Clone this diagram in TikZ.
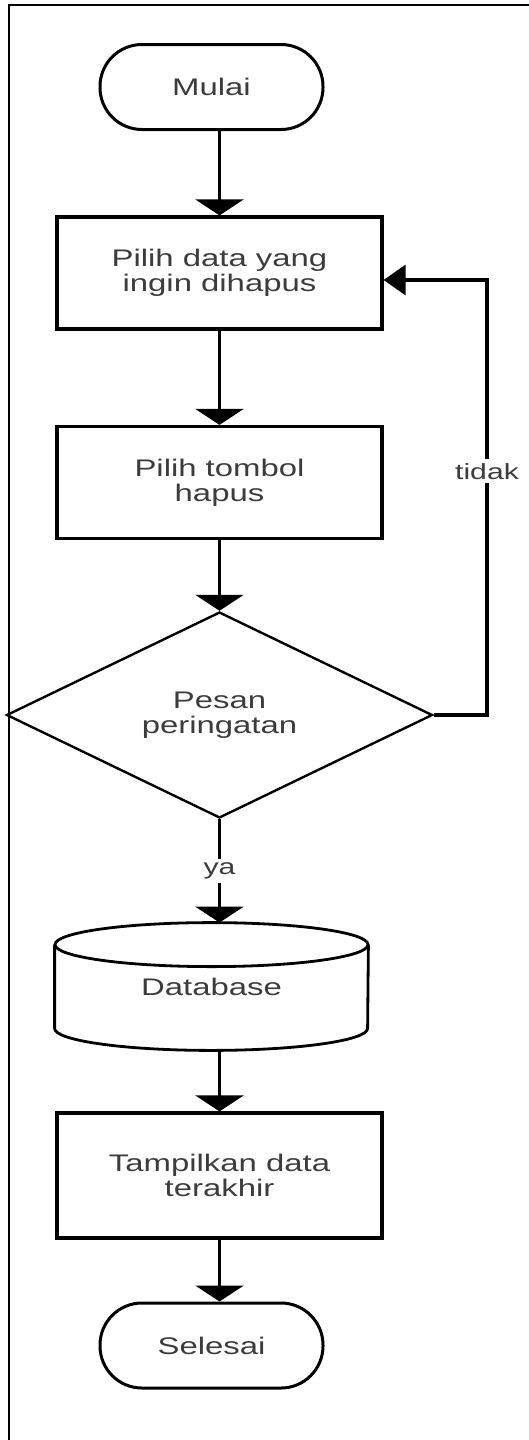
\documentclass[tikz,border=0pt]{standalone}
\usepackage{fontspec}
\setmainfont{Liberation Sans}[FakeStretch=1.37]
\usetikzlibrary{shapes.geometric,arrows.meta}
\definecolor{txtgray}{RGB}{60,60,60}
\begin{document}
\begin{tikzpicture}[x=0.5pt,y=-0.5pt,
    every node/.style={font=\fontsize{12}{12.5}\selectfont, text=txtgray, align=center},
    terminal/.style={draw, line width=1.5pt, rounded corners=21pt, minimum width=111.5pt, minimum height=42.5pt},
    process/.style={draw, line width=1.6pt, minimum width=162.5pt, minimum height=56pt},
    decision/.style={draw, diamond, line width=1.2pt, minimum width=213pt, minimum height=103pt, inner sep=0pt},
    store/.style={minimum width=156.5pt, minimum height=63.5pt},
    flow/.style={line width=1.6pt, -{Triangle[width=24pt,length=8pt]}},
    lbl/.style={fill=white, inner sep=2pt, font=\fontsize{11}{12}\selectfont}]
    \useasboundingbox (0,0) rectangle (529,1440);
    \draw [line width=1pt] (529,5) -- (9,5) -- (9,1440);
    \node [terminal] (mulai) at (211.5,87) {Mulai};
    \node [process] (pilih) at (219.5,273) {Pilih data yang\\ingin dihapus};
    \node [process] (tombol) at (219.5,482.5) {Pilih tombol\\hapus};
    \node [decision] (pesan) at (219.5,715) {Pesan\\peringatan};
    \node [store] (db) at (211.5,986.5) {Database};
    \draw [line width=1.4pt] ([yshift=-11pt]db.north) ellipse [x radius=78.25pt, y radius=11pt];
    \draw [line width=1.4pt] ([yshift=-11pt]db.north west) -- ([yshift=11pt]db.south west)
        arc [start angle=180, end angle=360, x radius=78.25pt, y radius=11pt] -- ([yshift=-11pt]db.north east);
    \node [process, minimum height=62.5pt] (tampil) at (219.5,1175.5) {Tampilkan data\\terakhir};
    \node [terminal] (selesai) at (211.5,1345.5) {Selesai};
    \coordinate (balik) at (487,715);
    \coordinate (masuk) at ([yshift=-3.5pt]pilih.east);
    \draw [flow] (pilih.north |- mulai.south) -- (pilih.north);
    \draw [flow] (pilih) -- (tombol);
    \draw [flow] (tombol) -- (pesan);
    \draw [flow] (pesan.south) -- node [lbl] {ya} (pesan.south |- db.north);
    \draw [flow] (db.south -| tampil.north) -- (tampil.north);
    \draw [flow] (tampil.south) -- (tampil.south |- selesai.north);
    \draw [flow, -{Triangle[width=15pt,length=11pt]}] (pesan.east) -- (balik) -- node [lbl, pos=0.56] {tidak} (balik |- masuk) -- (masuk);
\end{tikzpicture}
\end{document}
